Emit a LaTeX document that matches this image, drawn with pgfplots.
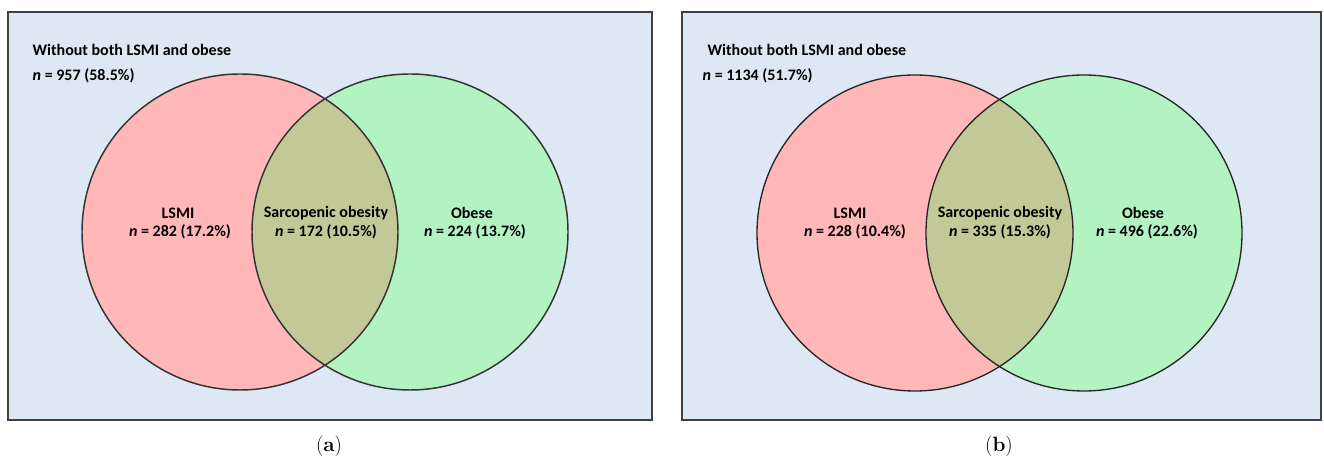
\documentclass[border=0pt]{standalone}
\usepackage{pgfplots}
\pgfplotsset{compat=1.18}
\usepackage{fontspec}
\newfontfamily\carlito{Carlito}
\definecolor{bgblue}{HTML}{DDE8F4}
\definecolor{boxgray}{HTML}{3F3F3F}
\definecolor{lsmipink}{HTML}{FFB7B7}
\definecolor{obesegreen}{HTML}{B3F3C1}
\definecolor{overlap}{HTML}{C2C996}
\tikzset{lab/.style={font=\carlito\bfseries\fontsize{12}{14}\selectfont}}
\begin{document}
\begin{tikzpicture}
\begin{axis}[
  width=993pt, height=344.25pt, scale only axis,
  xmin=0, xmax=1324, ymin=0, ymax=459,
  hide axis, clip=false,
]
\path (axis cs:0,0) rectangle (axis cs:1324,459);
% ---------- panel (a)
\draw[boxgray, line width=1.6pt, fill=bgblue] (axis cs:8,39) rectangle (axis cs:652,447);
\fill[lsmipink] (axis cs:240,227) circle[radius=158];
\fill[obesegreen] (axis cs:410,227) circle[radius=158];
\begin{scope}
\clip (axis cs:240,227) circle[radius=158];
\fill[overlap] (axis cs:410,227) circle[radius=158];
\end{scope}
\draw[black!80, line width=1.1pt] (axis cs:240,227) circle[radius=158];
\draw[black!80, line width=1.1pt] (axis cs:410,227) circle[radius=158];
\node[anchor=west, lab] at (axis cs:28,409) {Without both LSMI and obese};
\node[anchor=west, lab] at (axis cs:28,383) {\textit{n} = 957 (58.5\%)};
\node[lab] at (axis cs:178,246) {LSMI};
\node[lab] at (axis cs:180,227) {\textit{n} = 282 (17.2\%)};
\node[lab] at (axis cs:326,246) {Sarcopenic obesity};
\node[lab] at (axis cs:326,227) {\textit{n} = 172 (10.5\%)};
\node[lab] at (axis cs:472,246) {Obese};
\node[lab] at (axis cs:475,227) {\textit{n} = 224 (13.7\%)};
\node[font=\fontsize{15.5}{17}\selectfont] at (axis cs:329,13) {(\textbf{a})};
% ---------- panel (b)
\draw[boxgray, line width=1.6pt, fill=bgblue] (axis cs:682,39) rectangle (axis cs:1321,447);
\fill[lsmipink] (axis cs:915,226) circle[radius=158];
\fill[obesegreen] (axis cs:1084,226) circle[radius=158];
\begin{scope}
\clip (axis cs:915,226) circle[radius=158];
\fill[overlap] (axis cs:1084,226) circle[radius=158];
\end{scope}
\draw[black!85, line width=1pt] (axis cs:915,226) circle[radius=158];
\draw[black!85, line width=1pt] (axis cs:1084,226) circle[radius=158];
\node[anchor=west, lab] at (axis cs:703,409) {Without both LSMI and obese};
\node[anchor=west, lab] at (axis cs:698,383) {\textit{n} = 1134 (51.7\%)};
\node[lab] at (axis cs:850,246) {LSMI};
\node[lab] at (axis cs:855,227) {\textit{n} = 228 (10.4\%)};
\node[lab] at (axis cs:1000,246) {Sarcopenic obesity};
\node[lab] at (axis cs:1000,227) {\textit{n} = 335 (15.3\%)};
\node[lab] at (axis cs:1143,246) {Obese};
\node[lab] at (axis cs:1147,227) {\textit{n} = 496 (22.6\%)};
\node[font=\fontsize{15.5}{17}\selectfont] at (axis cs:999,13) {(\textbf{b})};
\end{axis}
\end{tikzpicture}
\end{document}
